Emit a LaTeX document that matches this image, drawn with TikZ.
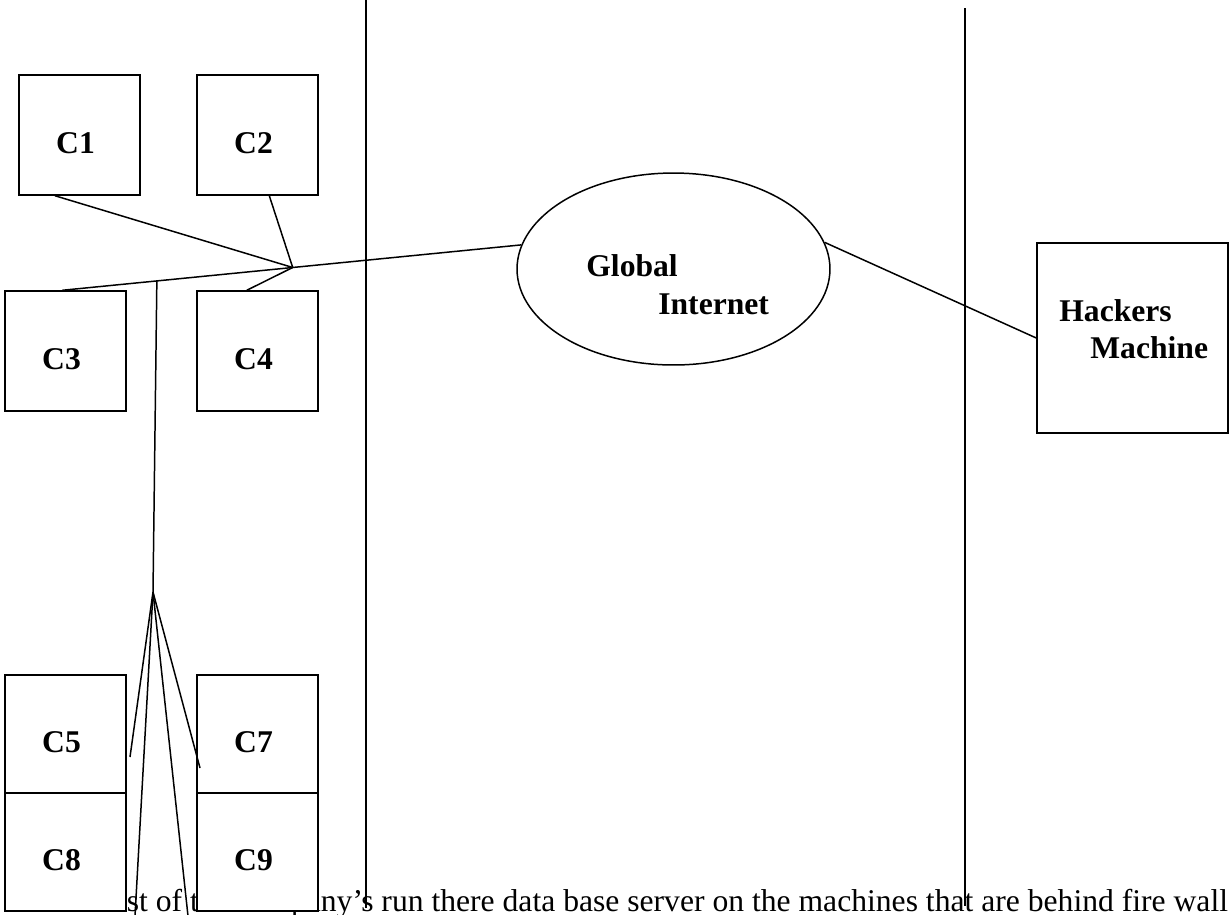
\documentclass[tikz,border=0pt]{standalone}
\usepackage{fontspec}
\setmainfont{Liberation Serif}
\usetikzlibrary{shapes.geometric,calc}

\tikzset{
  wire/.style={line width=0.85pt},
  pcbox/.style={draw, fill=white, line width=0.85pt, inner sep=0pt,
    minimum width=2.42cm, minimum height=2.4cm, font=\bfseries,
    text height=21pt, text depth=0pt,
    execute at end node={\hspace{0.16cm}}},
  caption/.style={inner sep=0pt, font=\bfseries},
}

\begin{document}
\begin{tikzpicture}[x=0.02cm,y=-0.02cm]
                        \useasboundingbox (0,0) rectangle (1230,914);
                        {\fontsize{18pt}{22pt}\selectfont

                        % Writing the sentence under the network
                        \node (txt) [anchor=base west, inner sep=0pt] at (86,911) {most of the company's run there data base server on the machines that are behind fire wall};%

                        % Drawing the two walls
                        \draw [wire] (366,0) -- (366,908);%
                        \draw [wire] (965,8) -- (965,906);%

                        % Drawing boxes C1 -- C4
                        \node (c1) [pcbox] at (79.5,135) {C1};%
                        \node (c2) [pcbox] at (257.5,135) {C2};%
                        \node (c3) [pcbox] at (65.5,351) {C3};%
                        \node (c4) [pcbox] at (257.5,351) {C4};%

                        % Drawing boxes C5 C7 C8 C9
                        \node (c5) [pcbox, minimum height=2.36cm] at (65.5,734) {C5};%
                        \node (c7) [pcbox, minimum height=2.36cm] at (257.5,734) {C7};%
                        \node (c8) [pcbox, minimum height=2.36cm] at (65.5,852) {C8};%
                        \node (c9) [pcbox, minimum height=2.36cm] at (257.5,852) {C9};%

                        % Drawing ellipse net
                        \node (net) [draw, ellipse, wire, inner sep=0pt, minimum width=6.26cm, minimum height=3.84cm] at (673.5,269) {};%
                        \node (glob) [caption, anchor=base west] at (586,276) {Global};%
                        \node (inet) [caption, anchor=base west] at (658,314) {Internet};%

                        % Drawing box hack
                        \node (hack) [draw, wire, inner sep=0pt, minimum width=3.82cm, minimum height=3.8cm] at (1132.5,338) {};%
                        \node (hk1) [caption, anchor=base west] at (1059,321) {Hackers};%
                        \node (hk2) [caption, anchor=base west] at (1090,358) {Machine};%

                        % Drawing the main wire C3 -- net
                        \draw [wire] (c3.93) -- (net.171);%
                        \coordinate (hub) at ($(c3.93)!0.502!(net.171)$);%
                        \coordinate (tap) at ($(c3.93)!0.206!(net.171)$);%

                        % Drawing wires to the hub
                        \draw [wire] (c1.248) -- (hub);%
                        \draw [wire] (c2.281) -- (hub);%
                        \draw [wire] (c4.100) -- (hub);%

                        % Drawing wire net -- hack
                        \draw [wire] (net.10) -- (hack.west);%

                        % Drawing the drop line and its fan
                        \coordinate (fan) at (153,592);%
                        \coordinate (e5) at (130,757);%
                        \coordinate (e7) at (200,768);%
                        \coordinate (e8) at (135,916);%
                        \coordinate (e9) at (188,916);%
                        \draw [wire] (tap) -- (fan);%
                        \draw [wire] (fan) -- (e5);%
                        \draw [wire] (fan) -- (e7);%
                        \draw [wire] (fan) -- (e8);%
                        \draw [wire] (fan) -- (e9);%
                        }
                    \end{tikzpicture}
\end{document}
